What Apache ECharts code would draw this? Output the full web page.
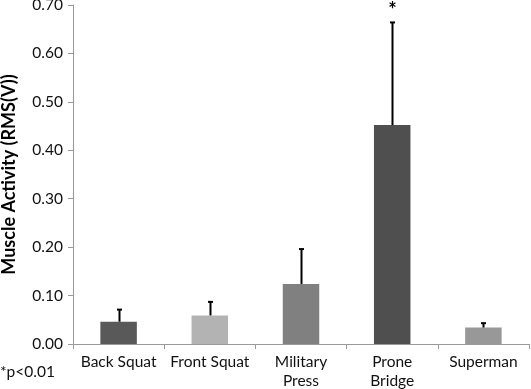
<!DOCTYPE html>
<html>
<head>
<meta charset="utf-8">
<script src="https://cdn.jsdelivr.net/npm/echarts@6/dist/echarts.min.js"></script>
<style>html,body{margin:0;padding:0;background:#fff}#c{width:531px;height:389px}</style>
</head>
<body>
<div id="c"></div>
<script>
const categories = ['Back Squat', 'Front Squat', 'Military\nPress', 'Prone\nBridge', 'Superman'];
const means = [0.046, 0.059, 0.124, 0.452, 0.034];
const errorTops = [0.071, 0.087, 0.196, 0.664, 0.043];
const barColors = ['#595959', '#b3b3b3', '#808080', '#4f4f4f', '#989898'];
const significance = ['', '', '', '*', ''];
const yTicks = { min: 0, max: 0.7, interval: 0.1 };

const FONT = 'Lato';
const chart = echarts.init(document.getElementById('c'), null, { renderer: 'canvas' });
chart.setOption({
  animation: false,
  backgroundColor: '#fff',
  grid: { left: 73, right: 2, top: 5, bottom: 45, containLabel: false, outerBoundsMode: 'none' },
  xAxis: {
    type: 'category',
    data: categories,
    axisLine: { lineStyle: { color: '#9a9a9a', width: 1 } },
    axisTick: { show: true, length: 5, lineStyle: { color: '#9a9a9a' } },
    axisLabel: { color: '#111', fontFamily: FONT, fontSize: 15.5, margin: 8, lineHeight: 19, interval: 0 }
  },
  yAxis: {
    type: 'value',
    min: yTicks.min, max: yTicks.max, interval: yTicks.interval,
    name: 'Muscle Activity (RMS(V))',
    nameLocation: 'middle',
    nameGap: 55,
    nameTextStyle: { color: '#000', fontFamily: FONT, fontSize: 18, fontWeight: 'bold' },
    axisLine: { show: true, lineStyle: { color: '#9a9a9a', width: 1 } },
    axisTick: { show: true, length: 5, lineStyle: { color: '#9a9a9a' } },
    splitLine: { show: false },
    axisLabel: { color: '#111', fontFamily: FONT, fontSize: 15.5, margin: 10, formatter: v => v.toFixed(2) }
  },
  series: [
    {
      type: 'bar',
      data: means.map((v, i) => ({ value: v, itemStyle: { color: barColors[i] } })),
      barWidth: '40%'
    },
    {
      type: 'custom',
      data: means.map((v, i) => [i, v, errorTops[i]]),
      z: 10,
      renderItem: function (params, api) {
        const i = api.value(0);
        const p0 = api.coord([i, api.value(1)]);
        const p1 = api.coord([i, api.value(2)]);
        const x = Math.round(p0[0]) + 0.5;
        const children = [
          { type: 'line', shape: { x1: x, y1: p0[1], x2: x, y2: p1[1] }, style: { stroke: '#000', lineWidth: 2 } },
          { type: 'line', shape: { x1: x - 2.5, y1: p1[1], x2: x + 2.5, y2: p1[1] }, style: { stroke: '#000', lineWidth: 2 } }
        ];
        const s = significance[params.dataIndex];
        if (s) {
          children.push({ type: 'text', x: x, y: p1[1] - 2, style: { text: s, fill: '#000', font: 'bold 20px ' + FONT, align: 'center', verticalAlign: 'bottom' } });
        }
        return { type: 'group', children: children };
      }
    }
  ],
  graphic: [
    { type: 'text', left: 0, top: 364, style: { text: '*p<0.01', fill: '#111', font: '15.5px ' + FONT } }
  ]
});
</script>
</body>
</html>
